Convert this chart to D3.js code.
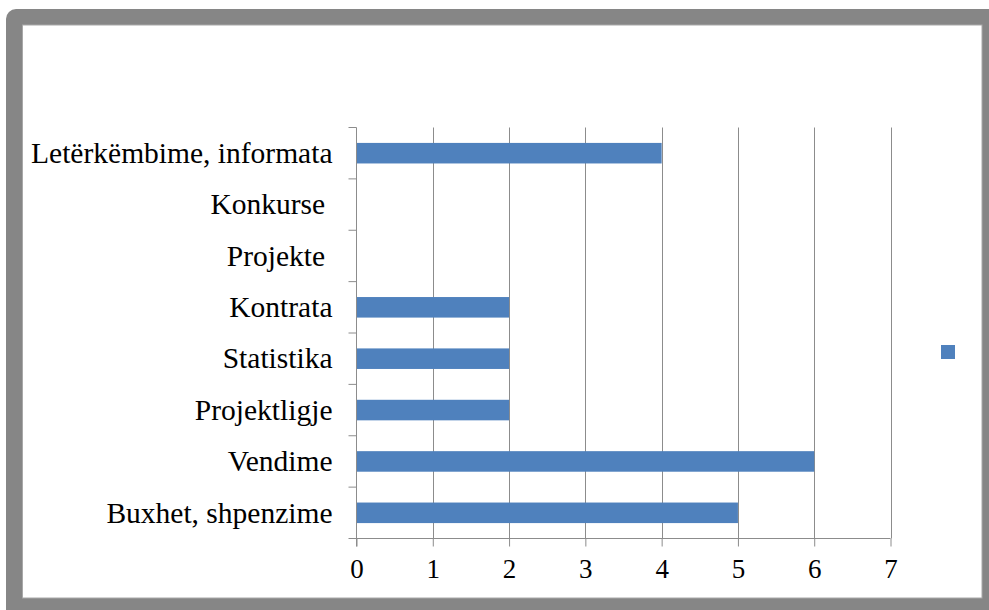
<!DOCTYPE html>
<html>
<head>
<meta charset="utf-8">
<script src="https://cdn.jsdelivr.net/npm/d3@7"></script>
<style>
  body { margin: 0; background: #fff; }
  svg { display: block; }
  text { font-family: 'Liberation Serif', 'Times New Roman', serif; fill: #000; }
</style>
</head>
<body>
<svg id="chart"></svg>
<script>
// categories top to bottom, as in the picture
const categories = ['Letërkëmbime, informata', 'Konkurse ', 'Projekte ', 'Kontrata', 'Statistika', 'Projektligje', 'Vendime', 'Buxhet, shpenzime']
const values = [4, 0, 0, 2, 2, 2, 6, 5]
const xTicks = [0, 1, 2, 3, 4, 5, 6, 7]

const outerWidth = 989
const outerHeight = 610
const plot = {left: 356.5, right: 890.5, top: 127.5, bottom: 538.5}

const svg = d3.select('#chart')
	.attr('width', outerWidth)
	.attr('height', outerHeight)

// frame
svg.append('rect')
	.attr('x', 6).attr('y', 9)
	.attr('width', 1000).attr('height', 620)
	.attr('rx', 10)
	.attr('fill', '#868686')
svg.append('rect')
	.attr('x', 22.5).attr('y', 25)
	.attr('width', 982 - 22.5).attr('height', 598 - 25)
	.attr('fill', '#fff')
	.attr('stroke', '#a8a8a8')
	.attr('stroke-width', 1)

const xScale = d3.scaleLinear()
	.domain([0, 7])
	.range([plot.left, plot.right])
const yScale = d3.scaleBand()
	.domain(categories)
	.range([plot.top, plot.bottom])
	.padding(0)

const g = svg.append('g')

// vertical gridlines
g.append('g').selectAll('line')
	.data(xTicks.filter(d => d > 0))
	.join('line')
	.attr('x1', d => Math.round(xScale(d)) + 0.5)
	.attr('x2', d => Math.round(xScale(d)) + 0.5)
	.attr('y1', plot.top)
	.attr('y2', plot.bottom)
	.attr('stroke', '#8c8c8c')
	.attr('stroke-width', 1)

// bars
const barH = yScale.bandwidth() * 0.4
g.append('g').selectAll('rect')
	.data(values)
	.join('rect')
	.attr('x', xScale(0))
	.attr('y', (d, i) => yScale(categories[i]) + (yScale.bandwidth() - barH) / 2)
	.attr('width', d => xScale(d) - xScale(0))
	.attr('height', barH)
	.attr('fill', '#4f81bd')

// x axis
const xAxis = d3.axisBottom(xScale)
	.tickValues(xTicks)
	.tickFormat(d3.format('d'))
	.tickSize(8)
	.tickPadding(12)
const xAxisGroup = g.append('g')
	.attr('transform', `translate(0,${plot.bottom})`)
	.call(xAxis)
xAxisGroup.select('.domain').attr('stroke', '#8c8c8c').attr('d', `M${plot.left},0H${plot.right}`)
xAxisGroup.selectAll('.tick line').attr('stroke', '#8c8c8c')
xAxisGroup.selectAll('.tick text')
	.style('font-family', "'Liberation Serif', serif")
	.style('font-size', '27px')
	.attr('fill', '#000')

// y axis: ticks on band boundaries
const yAxisGroup = g.append('g')
	.attr('transform', `translate(${plot.left},0)`)
yAxisGroup.append('line')
	.attr('x1', 0).attr('x2', 0)
	.attr('y1', plot.top).attr('y2', plot.bottom + 8)
	.attr('stroke', '#8c8c8c')
yAxisGroup.selectAll('line.tick')
	.data(categories.concat(['end']))
	.join('line')
	.attr('class', 'tick')
	.attr('x1', -8).attr('x2', 0)
	.attr('y1', (d, i) => i < categories.length ? yScale(d) : plot.bottom)
	.attr('y2', (d, i) => i < categories.length ? yScale(d) : plot.bottom)
	.attr('stroke', '#8c8c8c')
yAxisGroup.selectAll('text')
	.data(categories)
	.join('text')
	.attr('x', -24)
	.attr('y', d => yScale(d) + yScale.bandwidth() / 2)
	.attr('dy', '0.33em')
	.attr('text-anchor', 'end')
	.style('white-space', 'pre')
	.style('font-size', '29.5px')
	.text(d => d)

// legend (marker only)
svg.append('rect')
	.attr('x', 941).attr('y', 345)
	.attr('width', 14).attr('height', 14)
	.attr('fill', '#4f81bd')
</script>
</body>
</html>
